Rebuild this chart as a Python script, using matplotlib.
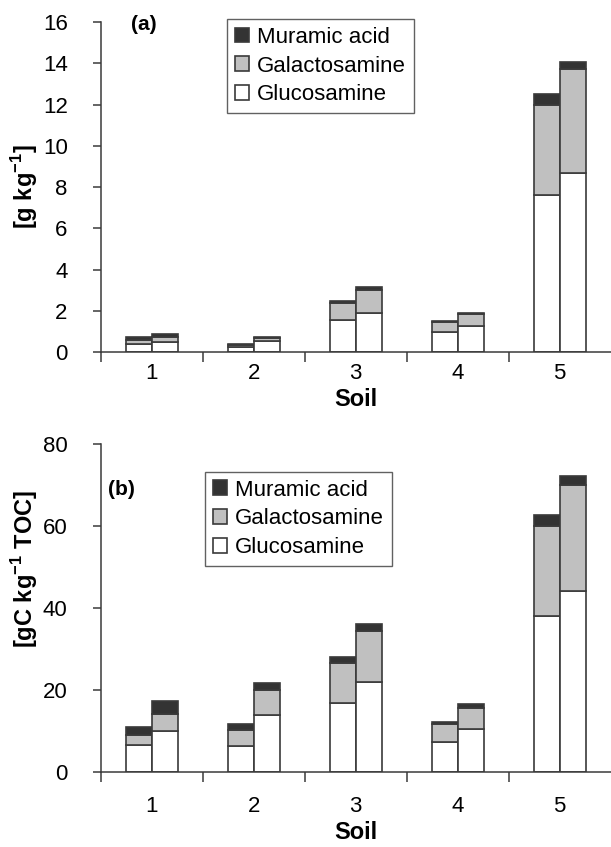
import numpy as np
import matplotlib.pyplot as plt

# --- Data ---
soils = ["1", "2", "3", "4", "5"]
series_names = ["Muramic acid", "Galactosamine", "Glucosamine"]

# panel (a): g kg-1, two bars per soil
gluc_a = [[0.39, 0.50], [0.23, 0.53], [1.54, 1.88], [0.95, 1.28], [7.60, 8.66]]
galac_a = [[0.19, 0.24], [0.09, 0.16], [0.82, 1.11], [0.49, 0.56], [4.40, 5.05]]
mur_a = [[0.13, 0.12], [0.05, 0.05], [0.13, 0.15], [0.08, 0.07], [0.52, 0.37]]

# panel (b): gC kg-1 TOC
gluc_b = [[6.5, 10.1], [6.4, 13.9], [16.8, 21.9], [7.4, 10.6], [38.0, 44.2]]
galac_b = [[2.55, 4.1], [3.9, 6.1], [9.9, 12.6], [4.3, 4.9], [22.0, 25.8]]
mur_b = [[2.05, 3.2], [1.4, 1.8], [1.3, 1.7], [0.6, 1.0], [2.8, 2.3]]

# --- Style ---
plt.rcParams['font.family'] = ['Liberation Sans', 'DejaVu Sans']
plt.rcParams['mathtext.fontset'] = 'custom'
plt.rcParams['mathtext.rm'] = 'Liberation Sans'
plt.rcParams['mathtext.bf'] = 'Liberation Sans:bold'

DARK = '#333333'
GRAY = '#c0c0c0'
EDGE = '#3a3a3a'
BAR_W = 0.254


def draw_panel(ax, gluc, galac, mur, ymax, yticks, ylabel, tag, tag_pos,
               legend_box, xpad, xlabel_y, ylabel_y):
    gluc = np.array(gluc)
    galac = np.array(galac)
    mur = np.array(mur)
    x = np.arange(len(soils))
    handles = []
    for j, off in enumerate([-BAR_W / 2, BAR_W / 2]):
        h1 = ax.bar(x + off, gluc[:, j], BAR_W, color='white', edgecolor=EDGE, lw=1.2)
        h2 = ax.bar(x + off, galac[:, j], BAR_W, bottom=gluc[:, j],
                    color=GRAY, edgecolor=EDGE, lw=1.2)
        h3 = ax.bar(x + off, mur[:, j], BAR_W, bottom=gluc[:, j] + galac[:, j],
                    color=DARK, edgecolor=EDGE, lw=1.2)
        handles = [h3, h2, h1]

    ax.set_xlim(-0.5, len(soils) - 0.5)
    ax.set_ylim(0, ymax)
    ax.set_yticks(yticks)
    ax.set_xticks(x)
    ax.set_xticklabels(soils)
    # boundary ticks between soils
    ax.set_xticks(np.arange(-0.5, len(soils) - 0.5, 1.0), minor=True)
    ax.tick_params(axis='x', which='major', length=0, labelsize=16, pad=xpad)
    ax.tick_params(axis='x', which='minor', length=7, width=1.1, direction='out', color=EDGE)
    ax.tick_params(axis='y', length=6, width=1.1, labelsize=16, color=EDGE, pad=18)
    for s in ['top', 'right']:
        ax.spines[s].set_visible(False)
    for s in ['left', 'bottom']:
        ax.spines[s].set_linewidth(1.1)
        ax.spines[s].set_color(EDGE)

    ax.set_xlabel('Soil', fontsize=17, fontweight='bold')
    ax.xaxis.set_label_coords(0.5, xlabel_y)
    ax.set_ylabel(ylabel, fontsize=17, fontweight='bold')
    ax.yaxis.set_label_coords(-0.12, ylabel_y)
    ax.text(tag_pos[0], tag_pos[1], tag, transform=ax.transAxes, fontsize=15,
            fontweight='bold', ha='center', va='center')

    leg = ax.legend(handles, series_names, loc='upper left',
                    bbox_to_anchor=legend_box, fontsize=16, frameon=True,
                    fancybox=False, handlelength=0.65, handleheight=0.65,
                    handletextpad=0.35, labelspacing=0.35, borderpad=0.35,
                    borderaxespad=0)
    leg.get_frame().set_edgecolor(EDGE)
    leg.get_frame().set_linewidth(1.0)


fig = plt.figure(figsize=(6.11, 8.47), dpi=100)
ax_a = fig.add_axes([0.1653, 0.5844, 0.834, 0.3896])
ax_b = fig.add_axes([0.1653, 0.0885, 0.834, 0.3873])

draw_panel(ax_a, gluc_a, galac_a, mur_a, 16, np.arange(0, 17, 2),
           r'[g kg$^{\mathbf{-1}}$]', '(a)', (0.084, 0.994), (0.247, 1.009),
           xpad=8, xlabel_y=-0.109, ylabel_y=0.5)
draw_panel(ax_b, gluc_b, galac_b, mur_b, 80, np.arange(0, 81, 20),
           r'[gC kg$^{\mathbf{-1}}$ TOC]', '(b)', (0.041, 0.86), (0.204, 0.915),
           xpad=17, xlabel_y=-0.149, ylabel_y=0.619)

fig.savefig('out.png', dpi=100)
